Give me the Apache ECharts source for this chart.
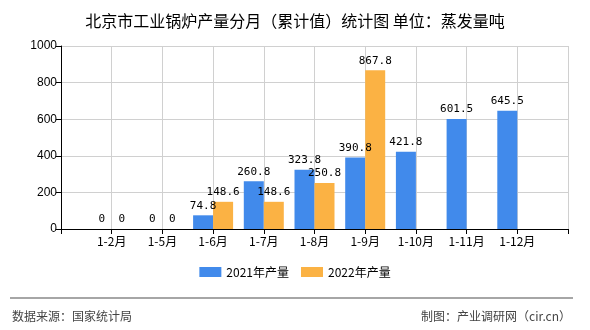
<!DOCTYPE html>
<html>
<head>
<meta charset="utf-8">
<script src="https://cdn.jsdelivr.net/npm/echarts@6/dist/echarts.min.js"></script>
<style>html,body{margin:0;padding:0;background:#fff;}#c{width:590px;height:330px;}</style>
</head>
<body>
<div id="c"></div>
<script>
var categories = ['1-2月', '1-5月', '1-6月', '1-7月', '1-8月', '1-9月', '1-10月', '1-11月', '1-12月'];
var seriesNames = ['2021年产量', '2022年产量'];
var values2021 = [0, 0, 74.8, 260.8, 323.8, 390.8, 421.8, 601.5, 645.5];
var values2022 = [0, 0, 148.6, 148.6, 250.8, 867.8, null, null, null];
var yTicks = [0, 200, 400, 600, 800, 1000];

var axisCats = [''].concat(categories).concat(['']);
function pad(arr) { return [null].concat(arr).concat([null]); }

var chart = echarts.init(document.getElementById('c'), null, {renderer: 'canvas'});
var cjk = '"Noto Sans CJK SC", sans-serif';
var labelStyle = {
  show: true, position: 'top', color: '#000',
  fontFamily: '"DejaVu Sans Mono", monospace', fontSize: 11, distance: 4,
  formatter: function (p) { return p.value == null ? '' : String(p.value); }
};
chart.setOption({
  animation: false,
  title: {
    text: '北京市工业锅炉产量分月（累计值）统计图 单位：蒸发量吨',
    left: 'center', top: 8,
    textStyle: {fontFamily: cjk, fontSize: 16, fontWeight: 'normal', color: '#000'}
  },
  legend: {
    bottom: 47, left: 'center', itemWidth: 22, itemHeight: 10, itemGap: 12,
    icon: 'rect',
    textStyle: {fontFamily: cjk, fontSize: 12, color: '#000'},
    data: seriesNames
  },
  grid: {left: 61, right: 22, top: 46, bottom: 101, containLabel: false},
  xAxis: {
    type: 'category', boundaryGap: false, data: axisCats,
    axisLine: {lineStyle: {color: '#000', width: 1}},
    axisTick: {show: true, interval: 0, length: 5, lineStyle: {color: '#000'}},
    axisLabel: {interval: 0, color: '#000', fontFamily: cjk, fontSize: 12, margin: 6},
    splitLine: {show: true, interval: 0, lineStyle: {color: '#d0d0d0', width: 1}}
  },
  yAxis: {
    type: 'value', min: yTicks[0], max: yTicks[yTicks.length - 1], interval: 200,
    axisLine: {show: true, lineStyle: {color: '#000', width: 1}},
    axisTick: {show: true, length: 5, lineStyle: {color: '#000'}},
    axisLabel: {color: '#000', fontFamily: 'sans-serif', fontSize: 12, margin: 4,
      formatter: function (v) { return String(v); }},
    splitLine: {show: true, lineStyle: {color: '#d0d0d0', width: 1}}
  },
  series: [
    {name: seriesNames[0], type: 'bar', data: pad(values2021), barWidth: 20, barGap: '0%',
     itemStyle: {color: '#418AEB'}, label: labelStyle},
    {name: seriesNames[1], type: 'bar', data: pad(values2022), barWidth: 20, barGap: '0%',
     itemStyle: {color: '#FBB244'}, label: labelStyle}
  ],
  graphic: [
    {type: 'line', shape: {x1: 10, y1: 298, x2: 573, y2: 298}, style: {stroke: '#888', lineWidth: 1.5}},
    {type: 'text', left: 12, top: 310, style: {text: '数据来源：国家统计局', fill: '#444', font: '12px "Noto Sans CJK SC", sans-serif'}},
    {type: 'text', right: 19, top: 310, style: {text: '制图：产业调研网（cir.cn）', fill: '#444', font: '12px "Noto Sans CJK SC", sans-serif'}}
  ]
});
</script>
</body>
</html>
